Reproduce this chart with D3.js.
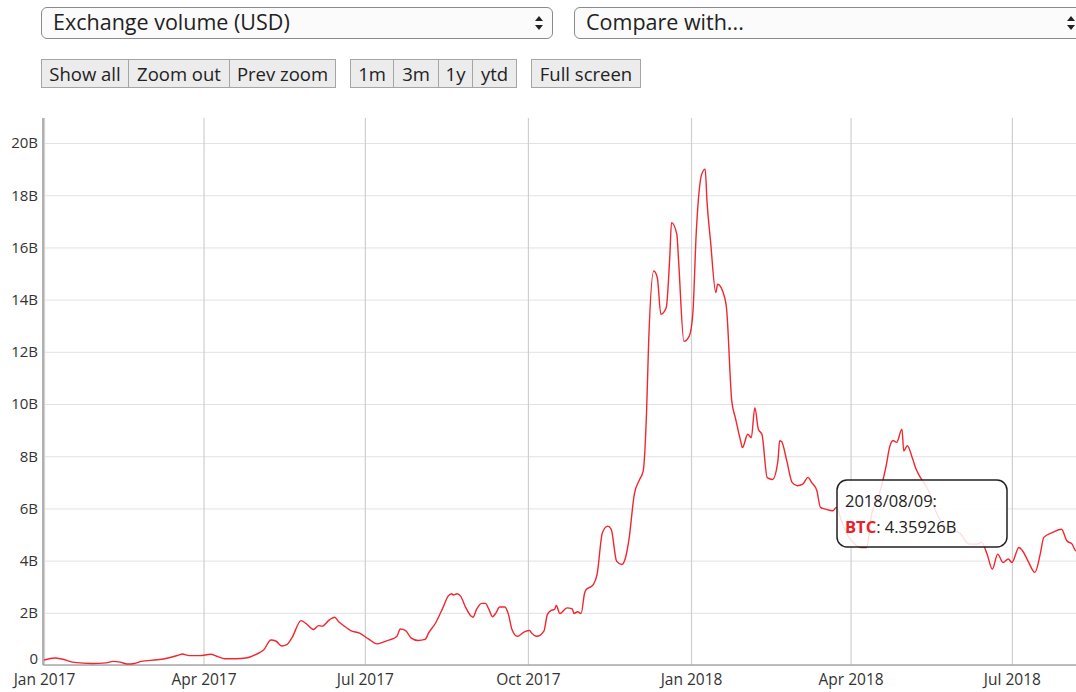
<!DOCTYPE html>
<html>
<head>
<meta charset="utf-8">
<script src="https://cdn.jsdelivr.net/npm/d3@7/dist/d3.min.js"></script>
<style>
  html, body { margin: 0; padding: 0; background: #fff; }
  body { width: 1076px; height: 692px; overflow: hidden; position: relative; font-family: "Open Sans", sans-serif; }
  .sel { position: absolute; top: 7px; height: 32px; border: 1px solid #8a8a8a; border-radius: 6px; background: #fbfbfb; box-sizing: border-box; font-size: 21.5px; color: #222; line-height: 28px; padding-left: 11px; }
  .arr { position: absolute; top: 8px; width: 8px; height: 14px; }
  .btn { position: absolute; top: 59px; height: 29px; box-sizing: border-box; border: 1px solid #a5a5a5; background: #ececec; font-size: 18.5px; color: #222; line-height: 27px; text-align: center; }
  #chart { position: absolute; left: 0; top: 0; }
</style>
</head>
<body>
<div class="sel" style="left:41px;width:512px;">Exchange volume (USD)
  <svg class="arr" style="left:493px;" viewBox="0 0 8 14"><path d="M4 0 L8 5 L0 5 Z M4 14 L8 9 L0 9 Z" fill="#222"/></svg>
</div>
<div class="sel" style="left:574px;width:520px;">Compare with...
  <svg class="arr" style="left:492px;" viewBox="0 0 8 14"><path d="M4 0 L8 5 L0 5 Z M4 14 L8 9 L0 9 Z" fill="#222"/></svg>
</div>
<div class="btn" style="left:41px;width:88px;">Show all</div>
<div class="btn" style="left:128px;width:102px;">Zoom out</div>
<div class="btn" style="left:229px;width:107px;">Prev zoom</div>
<div class="btn" style="left:350px;width:44px;">1m</div>
<div class="btn" style="left:393px;width:46px;">3m</div>
<div class="btn" style="left:438px;width:35px;">1y</div>
<div class="btn" style="left:472px;width:45px;">ytd</div>
<div class="btn" style="left:531px;width:110px;">Full screen</div>
<svg id="chart" width="1076" height="692"></svg>
<script>
// ---- data (values in billions of USD) ----
const dates = [
"2017-01-01","2017-01-07","2017-01-11","2017-01-18","2017-01-28","2017-02-05","2017-02-09","2017-02-13","2017-02-17","2017-02-21",
"2017-02-25","2017-03-06","2017-03-12","2017-03-18","2017-03-20","2017-03-24","2017-03-30","2017-04-05","2017-04-09","2017-04-13",
"2017-04-19","2017-04-25","2017-05-01","2017-05-05","2017-05-09","2017-05-12","2017-05-15","2017-05-18","2017-05-21","2017-05-26",
"2017-05-29","2017-06-02","2017-06-05","2017-06-07","2017-06-11","2017-06-14","2017-06-16","2017-06-19","2017-06-23","2017-06-28",
"2017-07-03","2017-07-08","2017-07-11","2017-07-15","2017-07-19","2017-07-21","2017-07-24","2017-07-27","2017-07-31","2017-08-04",
"2017-08-06","2017-08-10","2017-08-14","2017-08-17","2017-08-19","2017-08-20","2017-08-22","2017-08-24","2017-08-27","2017-08-30",
"2017-08-31","2017-09-02","2017-09-05","2017-09-07","2017-09-09","2017-09-11","2017-09-13","2017-09-15","2017-09-18","2017-09-20",
"2017-09-22","2017-09-25","2017-09-29","2017-10-02","2017-10-03","2017-10-06","2017-10-10","2017-10-12","2017-10-14","2017-10-16",
"2017-10-17","2017-10-19","2017-10-23","2017-10-26","2017-10-27","2017-10-29","2017-10-31","2017-11-02","2017-11-03","2017-11-06",
"2017-11-07","2017-11-09","2017-11-12","2017-11-15","2017-11-17","2017-11-20","2017-11-23","2017-11-25","2017-11-27","2017-11-30",
"2017-12-03","2017-12-05","2017-12-07","2017-12-08","2017-12-11","2017-12-13","2017-12-15","2017-12-18","2017-12-20","2017-12-21",
"2017-12-24","2017-12-25","2017-12-28","2017-12-31","2018-01-02","2018-01-04","2018-01-07","2018-01-09","2018-01-10","2018-01-12",
"2018-01-15","2018-01-16","2018-01-20","2018-01-21","2018-01-24","2018-01-26","2018-01-29","2018-01-30","2018-02-02","2018-02-04",
"2018-02-06","2018-02-08","2018-02-10","2018-02-13","2018-02-16","2018-02-19","2018-02-20","2018-02-21","2018-02-24","2018-02-27",
"2018-03-02","2018-03-05","2018-03-08","2018-03-10","2018-03-13","2018-03-15","2018-03-18","2018-03-22","2018-03-24","2018-03-27",
"2018-03-31","2018-04-04","2018-04-07","2018-04-10","2018-04-13","2018-04-17","2018-04-21","2018-04-23","2018-04-25","2018-04-27",
"2018-04-30","2018-05-01","2018-05-03","2018-05-06","2018-05-08","2018-05-11","2018-05-15","2018-05-19","2018-05-23","2018-05-27",
"2018-06-01","2018-06-07","2018-06-11","2018-06-14","2018-06-17","2018-06-20","2018-06-23","2018-06-26","2018-06-29","2018-07-01",
"2018-07-05","2018-07-07","2018-07-10","2018-07-14","2018-07-17","2018-07-19","2018-07-24","2018-07-29","2018-08-01","2018-08-04",
"2018-08-06","2018-08-09"
];
const volumes = [
0.19,0.27,0.23,0.10,0.06,0.08,0.14,0.11,0.04,0.06,
0.14,0.20,0.27,0.38,0.42,0.36,0.36,0.41,0.32,0.24,
0.24,0.27,0.42,0.58,0.96,0.91,0.73,0.78,1.06,1.70,
1.58,1.36,1.51,1.49,1.73,1.83,1.68,1.51,1.32,1.22,
1.00,0.81,0.87,0.96,1.09,1.38,1.32,1.04,0.94,0.98,
1.23,1.62,2.19,2.64,2.73,2.68,2.73,2.64,2.19,1.87,
1.83,2.13,2.36,2.36,2.13,1.85,2.00,2.22,2.22,1.94,
1.36,1.10,1.27,1.32,1.23,1.10,1.30,1.94,2.09,2.13,
2.28,1.97,2.19,2.15,1.97,2.04,1.97,2.77,2.90,3.02,
3.09,3.47,5.07,5.32,5.20,3.98,3.85,4.10,4.81,6.54,
7.11,7.43,9.86,12.16,15.10,14.84,13.44,13.69,15.61,16.95,
16.50,15.48,12.40,12.60,13.44,16.63,18.80,19.00,17.78,16.25,
14.27,14.59,14.08,13.69,10.11,9.48,8.58,8.33,8.84,8.71,
9.86,9.03,8.84,7.18,7.11,7.81,8.59,8.57,7.83,7.00,
6.87,6.93,7.19,7.00,6.68,6.04,5.97,5.91,6.04,5.50,
4.90,4.60,4.50,4.50,5.80,6.50,7.60,8.34,8.60,8.53,
9.04,8.20,8.40,7.90,7.50,7.12,6.68,5.90,5.40,5.14,
5.08,4.63,4.63,4.70,4.25,3.67,4.25,3.93,4.06,3.93,
4.50,4.38,4.00,3.55,4.25,4.89,5.08,5.20,4.76,4.63,
4.38,4.35926
];
const yTicks = [0, 2, 4, 6, 8, 10, 12, 14, 16, 18, 20];
const xTickDates = ["2017-01-01","2017-04-01","2017-07-01","2017-10-01","2018-01-01","2018-04-01","2018-07-01"];
const seriesName = "BTC";

// ---- chart ----
(function () {
const parse = d3.utcParse("%Y-%m-%d");
const data = dates.map((d, i) => ({ date: parse(d), value: volumes[i] }));

const mLeft = 44, mTop = 118, mBottom = 665, mRight = 1081, W = 1076;
const x = d3.scaleUtc()
  .domain([parse("2017-01-01"), parse("2018-08-09")])
  .range([mLeft, mRight]);
const y = d3.scaleLinear().domain([0, 20.96]).range([mBottom, mTop]);

const svg = d3.select("#chart");
const font = "'Open Sans', sans-serif";

svg.append("defs").append("clipPath").attr("id", "clip")
  .append("rect").attr("x", mLeft).attr("y", mTop - 2).attr("width", W - mLeft).attr("height", mBottom - mTop + 4);

// horizontal grid + y labels
const yAxis = svg.append("g").attr("transform", `translate(${mLeft},0)`)
  .call(d3.axisLeft(y).tickValues(yTicks).tickSize(-(W - mLeft)).tickPadding(6)
    .tickFormat(d => d === 0 ? "0" : d + "B"));
yAxis.select(".domain").remove();
yAxis.selectAll(".tick line").attr("stroke", "#e2e2e2").attr("stroke-width", 1);
yAxis.selectAll(".tick text").attr("font-family", font).attr("font-size", "15px").attr("fill", "#333");
yAxis.selectAll(".tick").filter(d => d === 0).select("text").attr("dy", "-0.1em");

// vertical grid + x labels
const xAxis = svg.append("g").attr("transform", `translate(0,${mBottom})`)
  .call(d3.axisBottom(x).tickValues(xTickDates.map(parse)).tickSize(-(mBottom - mTop)).tickPadding(9)
    .tickFormat(d3.utcFormat("%b %Y")));
xAxis.select(".domain").remove();
xAxis.selectAll(".tick line").attr("stroke", "#cfcfcf").attr("stroke-width", 1.2);
xAxis.selectAll(".tick text").attr("font-family", font).attr("font-size", "15.5px").attr("fill", "#333");

// axis lines
svg.append("line").attr("x1", mLeft - 1).attr("x2", mLeft - 1).attr("y1", mTop).attr("y2", mBottom)
  .attr("stroke", "#999").attr("stroke-width", 1.5);
svg.append("line").attr("x1", mLeft - 1).attr("x2", W).attr("y1", mBottom).attr("y2", mBottom)
  .attr("stroke", "#aaa").attr("stroke-width", 1.5);

// line
const line = d3.line().x(d => x(d.date)).y(d => y(d.value)).curve(d3.curveMonotoneX);
svg.append("path").datum(data).attr("clip-path", "url(#clip)")
  .attr("d", line).attr("fill", "none").attr("stroke", "#f2262e").attr("stroke-width", 1.4)
  .attr("stroke-linejoin", "round");

// tooltip
const last = data[data.length - 1];
const tip = svg.append("g").attr("transform", "translate(837,480)");
tip.append("rect").attr("width", 170).attr("height", 67).attr("rx", 10).attr("ry", 10)
  .attr("fill", "#fff").attr("fill-opacity", 0.85).attr("stroke", "#222").attr("stroke-width", 1.5);
tip.append("text").attr("x", 8).attr("y", 27).attr("font-family", font).attr("font-size", "16.5px").attr("fill", "#222")
  .text(d3.utcFormat("%Y/%m/%d")(last.date) + ":");
const t2 = tip.append("text").attr("x", 8).attr("y", 53).attr("font-family", font).attr("font-size", "16.5px").attr("fill", "#222");
t2.append("tspan").attr("fill", "#e8202a").attr("font-weight", "bold").text(seriesName);
t2.append("tspan").text(": " + last.value.toFixed(5) + "B");
})();
</script>
</body>
</html>
